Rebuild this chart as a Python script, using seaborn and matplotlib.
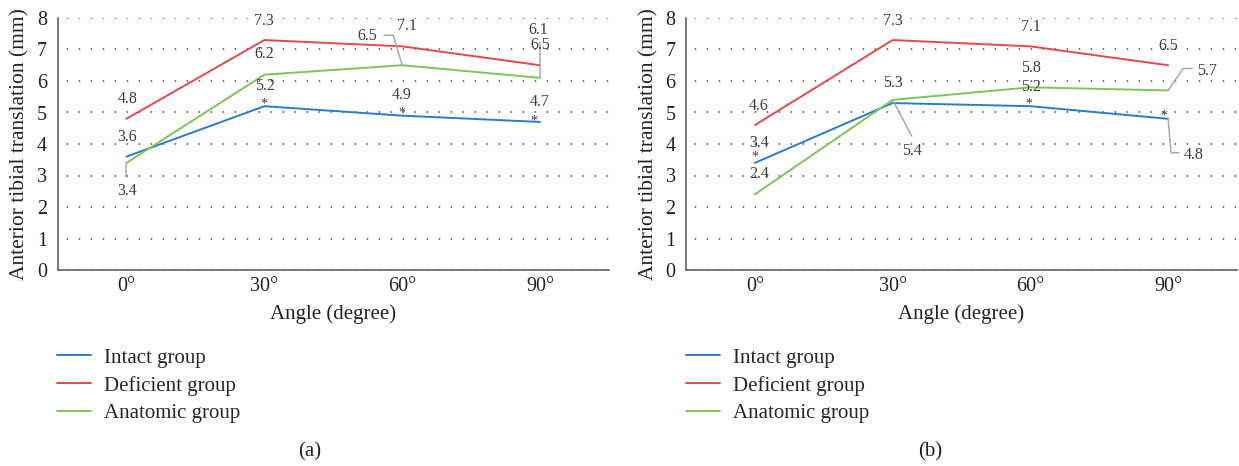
import pandas as pd
import matplotlib
matplotlib.use("Agg")
import matplotlib.pyplot as plt
import matplotlib.transforms as mtransforms
import seaborn as sns

angles = ["0°", "30°", "60°", "90°"]
groups = ["Intact group", "Deficient group", "Anatomic group"]
colors = ["#2b7cc7", "#e5484c", "#7dc458"]

# panel (a)
intact_a = [3.6, 5.2, 4.9, 4.7]
deficient_a = [4.8, 7.3, 7.1, 6.5]
anatomic_a = [3.4, 6.2, 6.5, 6.1]
stars_a = [False, True, True, True]

# panel (b)
intact_b = [3.4, 5.3, 5.2, 4.8]
deficient_b = [4.6, 7.3, 7.1, 6.5]
anatomic_b = [2.4, 5.4, 5.8, 5.7]
stars_b = [True, False, True, True]

LEADER = "#a8a8a8"
TXT = "#3c3c3c"

sns.set_style("white")
plt.rcParams["font.family"] = ["Liberation Serif", "DejaVu Serif"]


def make_frame(intact, deficient, anatomic):
    rows = []
    for name, vals in zip(groups, [intact, deficient, anatomic]):
        for a, v in zip(angles, vals):
            rows.append({"angle": a, "value": v, "group": name})
    return pd.DataFrame(rows)


def leader(ax, i, v, pts):
    # pts are pixel offsets from the data point (y up)
    tr = mtransforms.ScaledTranslation(i, v, ax.transData)
    xs = [p[0] for p in pts]
    ys = [p[1] for p in pts]
    ax.plot(xs, ys, color=LEADER, lw=1.1, transform=tr, clip_on=False, zorder=4)


def value_labels(ax, vals, offsets, leaders=None):
    leaders = leaders or {}
    for i, v in enumerate(vals):
        dx, dy = offsets[i]
        ax.annotate(f"{v:.1f}", (i, v), xytext=(dx, dy), textcoords="offset pixels",
                    ha="center", va="center", fontsize=11.5, color=TXT, zorder=5)
        if i in leaders:
            leader(ax, i, v, leaders[i])


def star_marks(ax, vals, stars, offsets):
    for i, (v, s) in enumerate(zip(vals, stars)):
        if s:
            dx, dy = offsets[i]
            ax.annotate("*", (i, v), xytext=(dx, dy), textcoords="offset pixels",
                        ha="center", va="center", fontsize=10, color=TXT, zorder=5)


def draw_panel(ax, df):
    sns.lineplot(data=df, x="angle", y="value", hue="group", palette=colors,
                 linewidth=1.4, ax=ax)
    ax.set_xlim(-0.5, 3.5)
    ax.set_ylim(0, 8)
    ax.set_yticks(range(0, 9))
    ax.yaxis.grid(True, linestyle=(2, (0.9, 6.3)), linewidth=1.2, color="#555555")
    ax.set_axisbelow(True)
    for side in ["top", "right"]:
        ax.spines[side].set_visible(False)
    for side in ["left", "bottom"]:
        ax.spines[side].set_color("#555555")
        ax.spines[side].set_linewidth(1.1)
    ax.tick_params(axis="both", length=0, labelsize=14.5, colors="#222222")
    ax.tick_params(axis="y", pad=7.5)
    ax.tick_params(axis="x", pad=5)
    ax.set_xlabel("Angle (degree)", fontsize=15, color="#222222")
    ax.set_ylabel("Anterior tibial translation (mm)", fontsize=15.5, color="#222222")
    ax.xaxis.set_label_coords(0.5, -0.135)
    ax.yaxis.set_label_coords(-0.05, 0.5)
    handles, labels = ax.get_legend_handles_labels()
    return handles, labels


fig = plt.figure(figsize=(12.39, 4.66), dpi=100)
fig.patch.set_facecolor("white")
ax_a = fig.add_axes([57.5 / 1239, 1 - 270 / 466, 551.5 / 1239, 252 / 466])
ax_b = fig.add_axes([686 / 1239, 1 - 270 / 466, 551 / 1239, 252 / 466])

# ---- (a)
h, l = draw_panel(ax_a, make_frame(intact_a, deficient_a, anatomic_a))
value_labels(ax_a, intact_a, [(1, 20), (1, 20), (0, 21), (0, 20)])
value_labels(ax_a, deficient_a, [(1, 20), (0, 19), (5, 20), (0, 20)])
value_labels(ax_a, anatomic_a, [(1, -28), (0, 21), (-35, 29), (-2, 48)],
             leaders={0: [(0, 0), (0, -14)],
                      2: [(0, 0), (-9, 30), (-18, 30)],
                      3: [(0, 0), (0, 36)]})
star_marks(ax_a, intact_a, stars_a, [None, (0, 2), (0, 3), (-6, 1)])
ax_a.legend(h, l, loc="upper left", bbox_to_anchor=(57 / 1239, 1 - 348 / 466),
            bbox_transform=fig.transFigure, frameon=False, fontsize=15,
            handlelength=1.65, handletextpad=0.6, labelspacing=0.39,
            borderpad=0, borderaxespad=0)

# ---- (b)
h, l = draw_panel(ax_b, make_frame(intact_b, deficient_b, anatomic_b))
value_labels(ax_b, intact_b, [(4, 20), (0, 20), (1, 19), (26, -36)],
             leaders={3: [(0, 0), (3, -34), (11, -34)]})
value_labels(ax_b, deficient_b, [(4, 19), (0, 19), (1, 19), (0, 19)])
value_labels(ax_b, anatomic_b, [(4, 20), (19, -51), (1, 19), (39, 19)],
             leaders={1: [(0, 0), (19, -36)],
                      3: [(0, 0), (15, 22), (24, 22)]})
star_marks(ax_b, intact_b, stars_b, [(0, 6), None, (-2, 2), (-4, 3)])
ax_b.legend(h, l, loc="upper left", bbox_to_anchor=(686 / 1239, 1 - 348 / 466),
            bbox_transform=fig.transFigure, frameon=False, fontsize=15,
            handlelength=1.65, handletextpad=0.6, labelspacing=0.39,
            borderpad=0, borderaxespad=0)

fig.text(310 / 1239, 1 - 452 / 466, "(a)", ha="center", va="center", fontsize=15, color="#222222")
fig.text(930 / 1239, 1 - 452 / 466, "(b)", ha="center", va="center", fontsize=15, color="#222222")

fig.savefig("out.png", dpi=100, facecolor="white")
